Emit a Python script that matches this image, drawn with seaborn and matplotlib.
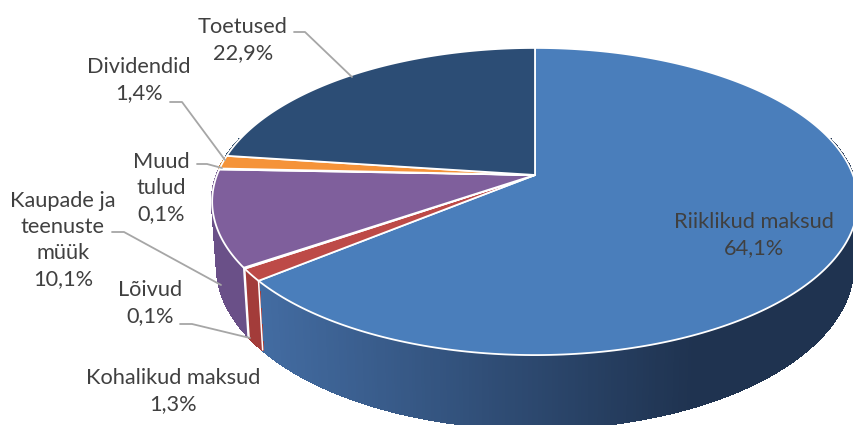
import numpy as np
import matplotlib
matplotlib.use("Agg")
import matplotlib.pyplot as plt
import seaborn as sns

labels = ["Riiklikud maksud\n64,1%", "Kohalikud maksud\n1,3%", "Lõivud\n0,1%",
          "Kaupade ja\nteenuste\nmüük\n10,1%", "Muud\ntulud\n0,1%", "Dividendid\n1,4%", "Toetused\n22,9%"]
shares = [64.1, 1.3, 0.1, 10.1, 0.1, 1.4, 22.9]
top_colors = ["#4a7ebb", "#bd4a47", "#bd4a47", "#7f5f9c", "#7f5f9c", "#f59339", "#2c4d75"]
wall_colors = [("#436ca2", "#1f3350"), ("#a33c3a", "#a33c3a"), ("#a33c3a", "#a33c3a"),
               ("#6a5088", "#64498a"), ("#6a5088", "#6a5088"), ("#c87a30", "#c87a30"), ("#22405f", "#22405f")]

label_x = [754, 173, 150, 63, 161, 139, 243]
label_y = [235, 391, 303, 240, 188, 80, 40]
leaders = {
    "Toetused": ([294, 305, 352], [32, 32, 77]),
    "Dividendid": ([170, 182, 225], [102, 102, 160]),
    "Muud": ([197, 207, 222], [164, 164, 168]),
    "Kaupade": ([112, 124, 221], [232, 232, 285]),
    "Loivud": ([180, 192, 250], [324, 324, 338]),
}

# perspective of the disc, in pixels
cx, cy = 535, 175
half_w, half_h = 318, 149
persp = 0.1726
depth = 63
shrink = 0.985


def rim(theta, lower=False):
    X, Y = np.sin(theta), np.cos(theta)
    s = 1 / (1 + persp * Y)
    f = shrink if lower else 1.0
    x = cx + half_w * X * s * f
    y = cy - half_h * Y * s * f
    if lower:
        y = y + depth * s
    return x, y


sns.set_theme(style="white")
plt.rcParams["font.family"] = ["Lato", "DejaVu Sans"]

fig, ax = plt.subplots(figsize=(8.54, 4.25), dpi=100)
ax.set_position([0, 0, 1, 1])
ax.set_xlim(0, 854)
ax.set_ylim(425, 0)
ax.axis("off")

edges = np.radians(np.cumsum([0] + shares) * 3.6)

# walls first, the top faces cover whatever is behind
for i in range(len(shares)):
    n = max(int(np.degrees(edges[i + 1] - edges[i]) * 2), 1)
    steps = np.linspace(edges[i], edges[i + 1], n + 1)
    pal = sns.blend_palette(wall_colors[i], 128)
    for a, b in zip(steps[:-1], steps[1:]):
        if np.cos((a + b) / 2) > 0.25:
            continue
        xa, ya = rim(a)
        xb, yb = rim(b)
        xc, yc = rim(b, True)
        xd, yd = rim(a, True)
        t = np.clip(((xa + xb) / 2 - 255) / (690 - 255), 0, 1)
        col = pal[int(t * 127)]
        ax.fill([xa, xb, xc, xd], [ya, yb, yc, yd], facecolor=col, edgecolor=col, lw=1.2,
                antialiased=False, zorder=2)

for e in edges[1:4]:
    xa, ya = rim(e)
    xb, yb = rim(e, True)
    ax.plot([xa, xb], [ya, yb], color="white", lw=1.1, zorder=3)

for i in range(len(shares)):
    steps = np.linspace(edges[i], edges[i + 1], 240)
    xs, ys = rim(steps)
    ax.fill(np.r_[cx, xs], np.r_[cy, ys], facecolor=top_colors[i], edgecolor="white", lw=1.3,
            joinstyle="round", zorder=4)

for xs, ys in leaders.values():
    ax.plot(xs, ys, color="#a6a6a6", lw=1.3, zorder=5)

for lab, x, y in zip(labels, label_x, label_y):
    ax.text(x, y, lab, ha="center", va="center", multialignment="center", fontsize=15.7,
            color="#404040", linespacing=1.37, zorder=6)

fig.savefig("out.png", dpi=100)
